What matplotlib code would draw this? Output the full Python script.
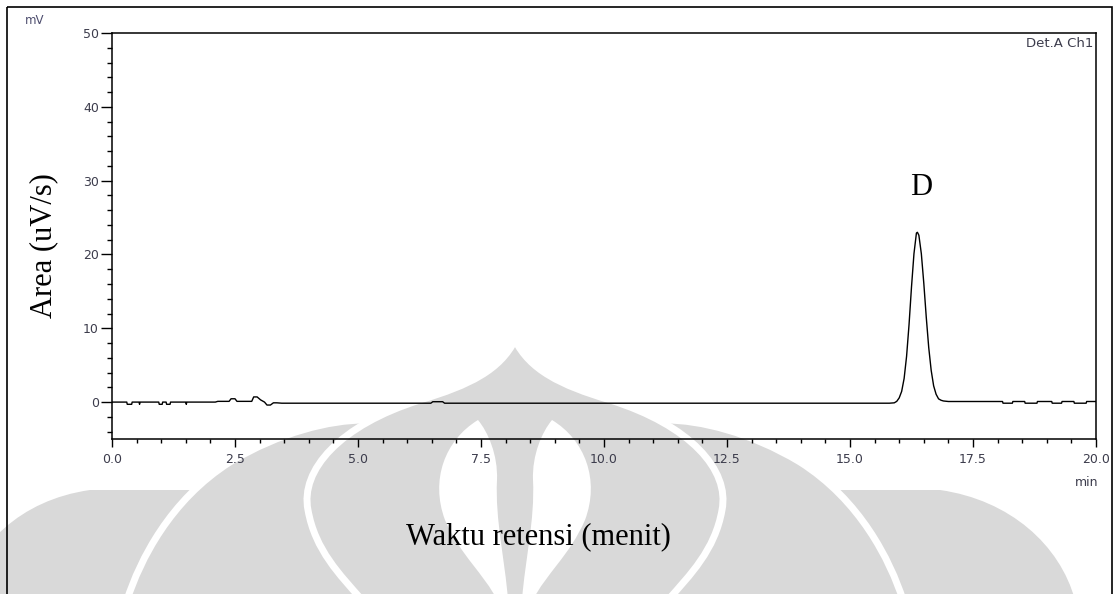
import matplotlib
matplotlib.use("Agg")
import matplotlib.pyplot as plt
from matplotlib.path import Path
from matplotlib.patches import PathPatch, Rectangle
from matplotlib.ticker import MultipleLocator, FixedLocator

# detector trace, Det.A Ch1 (time in min, signal in mV)
time = [0.00, 0.30, 0.31, 0.40, 0.41, 0.55, 0.56, 0.57, 0.95, 0.96, 1.02, 1.03,
        1.10, 1.11, 1.18, 1.19, 1.50, 1.51, 1.52, 2.10, 2.15, 2.38, 2.42, 2.50,
        2.54, 2.84, 2.88, 2.95, 3.02, 3.10, 3.15, 3.22, 3.28, 3.35, 3.45, 6.48,
        6.52, 6.72, 6.76, 15.80, 15.90, 15.95, 16.00, 16.05, 16.10, 16.15, 16.20,
        16.25, 16.30, 16.35, 16.37, 16.40, 16.45, 16.50, 16.55, 16.60, 16.65,
        16.70, 16.75, 16.80, 16.85, 16.90, 17.00, 18.10, 18.11, 18.30, 18.31,
        18.55, 18.56, 18.80, 18.81, 19.10, 19.11, 19.30, 19.31, 19.55, 19.56,
        19.80, 19.81, 20.00]
signal = [0.00, 0.00, -0.30, -0.30, 0.00, 0.00, -0.30, 0.00, 0.00, -0.30, -0.30, 0.00,
          0.00, -0.30, -0.30, 0.00, 0.00, -0.30, 0.00, 0.00, 0.10, 0.10, 0.45, 0.45,
          0.10, 0.10, 0.70, 0.70, 0.30, 0.00, -0.40, -0.40, -0.10, -0.10, -0.15, -0.15,
          0.05, 0.05, -0.15, -0.15, -0.10, 0.10, 0.57, 1.45, 3.20, 6.20, 10.50,
          15.60, 20.10, 22.90, 23.00, 22.60, 20.10, 16.10, 11.50, 7.40, 4.30,
          2.20, 1.06, 0.44, 0.25, 0.15, 0.08, 0.08, -0.15, -0.15, 0.08,
          0.08, -0.15, -0.15, 0.08, 0.08, -0.15, -0.15, 0.08, 0.08, -0.15,
          -0.15, 0.08, 0.08]

peak_label = "D"
peak_time = 16.37
peak_height = 23.0

x_major = [0.0, 2.5, 5.0, 7.5, 10.0, 12.5, 15.0, 17.5, 20.0]
x_labels = ["0.0", "2.5", "5.0", "7.5", "10.0", "12.5", "15.0", "17.5", "20.0"]
y_major = [0, 10, 20, 30, 40, 50]

W, H = 1119, 594
fig = plt.figure(figsize=(W / 100, H / 100), dpi=100, facecolor="white")

# background makara watermark, drawn in pixel coordinates
bg = fig.add_axes([0, 0, 1, 1], zorder=0)
bg.set_xlim(0, W)
bg.set_ylim(H, 0)
bg.axis("off")


def shape(start, segments, mirror=None):
    """Closed Bezier outline; segments are 3-point curves or 1-point lines."""
    fx = (lambda p: p) if mirror is None else (lambda p: (2 * mirror - p[0], p[1]))
    verts = [fx(start)]
    codes = [Path.MOVETO]
    for seg in segments:
        verts += [fx(p) for p in seg]
        codes += [Path.CURVE4] * 3 if len(seg) == 3 else [Path.LINETO]
    verts.append(fx(start))
    codes.append(Path.CLOSEPOLY)
    return Path(verts, codes)


grey = "#d9d9d9"
cx = 515

outer = shape((-40, 600), [((-25, 545), (20, 500), (90, 490)), ((940, 490),),
                           ((1010, 500), (1060, 545), (1075, 600))])
middle = shape((127, 600), [((140, 560), (170, 500), (230, 462)),
                            ((280, 432), (330, 420), (365, 420)), ((665, 420),),
                            ((700, 420), (750, 432), (800, 462)),
                            ((860, 500), (890, 560), (903, 600))])
dome = shape((cx, 340), [((500, 370), (470, 385), (420, 400)),
                         ((340, 425), (300, 470), (308, 510)),
                         ((315, 550), (340, 575), (362, 600)), ((668, 600),),
                         ((690, 575), (715, 550), (722, 510)),
                         ((730, 470), (690, 425), (610, 400)),
                         ((560, 385), (530, 370), (cx, 340))])
flame = [((445, 440), (430, 480), (445, 520)),
         ((460, 555), (485, 575), (497, 600)), ((508, 600),),
         ((505, 560), (495, 520), (497, 480)),
         ((498, 455), (488, 432), (478, 420))]
flame_l = shape((478, 420), flame)
flame_r = shape((478, 420), flame, mirror=cx)

bg.add_patch(PathPatch(outer, facecolor=grey, edgecolor="none"))
bg.add_patch(PathPatch(middle, facecolor=grey, edgecolor="white", lw=5))
bg.add_patch(PathPatch(dome, facecolor=grey, edgecolor="white", lw=5))
bg.add_patch(PathPatch(flame_l, facecolor="white", edgecolor="none"))
bg.add_patch(PathPatch(flame_r, facecolor="white", edgecolor="none"))

# outer frame
bg.add_patch(Rectangle((7, 7), 1105, 620, fill=False, edgecolor="black", lw=1.2))

ax = fig.add_axes([112 / W, 1 - 439 / H, (1096 - 112) / W, (439 - 33) / H], zorder=1)
ax.patch.set_alpha(0)
ax.plot(time, signal, color="black", lw=1.0)

ax.set_xlim(0, 20)
ax.set_ylim(-5, 50)
ax.xaxis.set_major_locator(FixedLocator(x_major))
ax.set_xticklabels(x_labels)
ax.xaxis.set_minor_locator(MultipleLocator(0.5))
ax.yaxis.set_major_locator(FixedLocator(y_major))
ax.yaxis.set_minor_locator(MultipleLocator(2))

tick_col = "#3c3c4c"
ax.tick_params(axis="both", which="both", direction="out", colors="black",
               labelcolor=tick_col, width=1.0, labelsize=9)
ax.tick_params(axis="x", which="major", length=6, pad=4)
ax.tick_params(axis="x", which="minor", length=3)
ax.tick_params(axis="y", which="major", length=8, pad=1.5)
ax.tick_params(axis="y", which="minor", length=3.5)
for sp in ax.spines.values():
    sp.set_linewidth(1.1)

fig.text(35 / W, 1 - 21 / H, "mV", fontsize=8.5, color="#4d4d6e",
         ha="center", va="center")
ax.text(0.997, 0.975, "Det.A Ch1", transform=ax.transAxes, fontsize=9.5,
        color=tick_col, ha="right", va="center")
fig.text(1087 / W, 1 - 482 / H, "min", fontsize=9, color=tick_col,
         ha="center", va="center")

serif = "Liberation Serif"
ax.annotate(peak_label, (peak_time, peak_height), xytext=(3, 32),
            textcoords="offset points", ha="center", va="center",
            fontsize=22, family=serif)
fig.text(538 / W, 1 - 537 / H, "Waktu retensi (menit)", fontsize=22,
         family=serif, ha="center", va="center")
fig.text(44 / W, 1 - 246 / H, "Area (uV/s)", fontsize=22, family=serif,
         rotation=90, ha="center", va="center")

fig.savefig("out.png", dpi=100, facecolor="white")
